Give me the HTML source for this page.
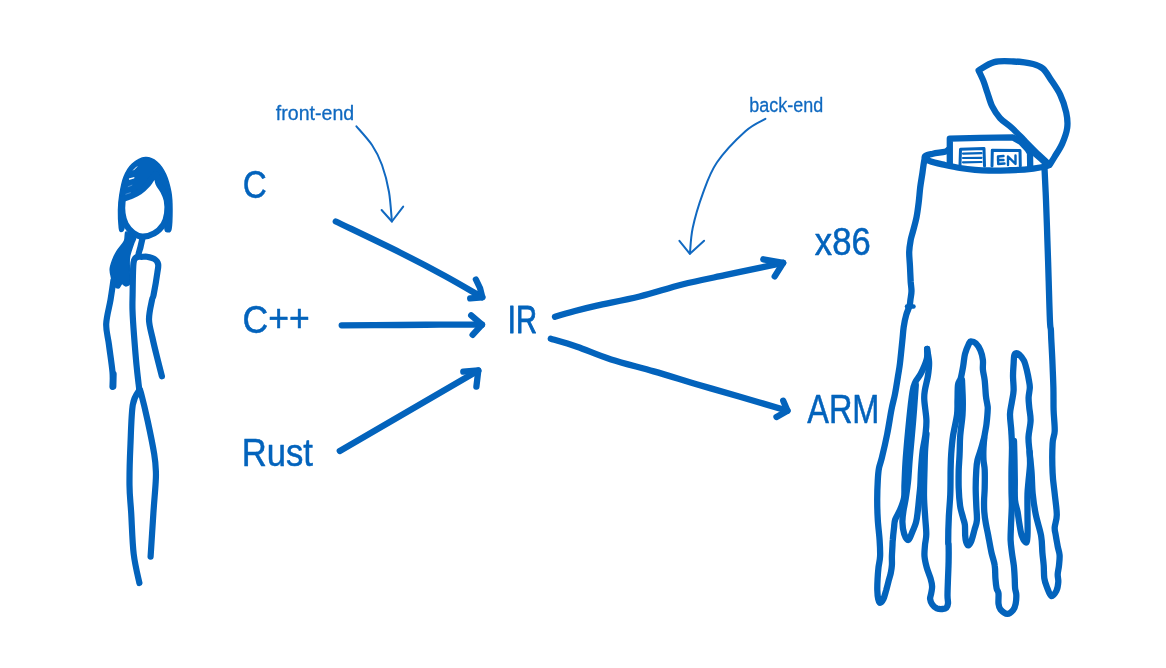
<!DOCTYPE html>
<html lang="en">
<head>
<meta charset="utf-8">
<title>Compiler front-end and back-end</title>
<style>
html,body{margin:0;padding:0;background:#fff;}
body{width:1166px;height:668px;overflow:hidden;font-family:"Liberation Sans","DejaVu Sans",sans-serif;}
svg{display:block;position:absolute;left:0;top:0;filter:blur(0.45px);}
.s{fill:none;stroke:#0363bc;stroke-linecap:round;stroke-linejoin:round;}
.f{fill:#0363bc;stroke:#0363bc;stroke-linecap:round;stroke-linejoin:round;}
text{fill:#0363bc;font-family:"Liberation Sans","DejaVu Sans",sans-serif;}
</style>
</head>
<body>
<svg width="1166" height="668" viewBox="0 0 1166 668">
<path class="f" stroke-width="1.5" d="M119.3 228.0C118.9 224.4 118.4 215.5 118.5 210.0C118.6 204.5 118.9 200.5 119.8 195.0C120.7 189.5 121.9 182.2 124.0 177.0C126.1 171.8 128.7 167.2 132.3 164.0C135.9 160.8 141.3 157.9 145.4 157.6C149.5 157.3 153.4 159.2 156.8 162.0C160.2 164.8 163.3 169.3 165.6 174.3C167.9 179.3 169.7 186.1 170.8 192.0C171.9 197.9 172.0 203.8 172.0 210.0C172.0 216.2 171.7 225.4 171.0 229.0C170.3 232.6 169.0 231.8 168.0 231.8C167.0 231.8 165.3 232.3 165.0 229.0C164.7 225.7 166.2 216.8 166.0 212.0C165.8 207.2 165.0 203.5 164.0 200.0C163.0 196.5 161.4 193.8 160.0 191.0C158.6 188.2 156.4 185.5 155.5 183.0C154.6 180.5 155.5 175.5 154.5 176.0C153.5 176.5 151.8 182.9 149.5 186.0C147.2 189.1 143.5 192.3 140.5 194.5C137.5 196.7 134.1 197.8 131.5 199.0C128.9 200.2 126.2 199.2 125.0 201.5C123.8 203.8 124.7 208.6 124.5 213.0C124.3 217.4 124.6 224.9 124.0 228.0C123.4 231.1 121.8 231.5 121.0 231.5C120.2 231.5 119.7 231.6 119.3 228.0Z"/>
<path class="f" stroke-width="6.2" d="M122.5 202.0C122.2 204.5 122.0 209.8 122.5 213.5C123.0 217.2 123.9 220.9 125.7 224.2C127.5 227.4 130.4 230.9 133.2 233.0C136.0 235.1 138.9 236.5 142.4 236.6C145.9 236.7 150.7 235.4 154.2 233.4C157.7 231.4 161.2 227.9 163.4 224.6C165.6 221.3 166.5 217.6 167.1 213.5C167.7 209.4 167.5 204.1 166.8 200.3C166.1 196.5 164.4 193.4 163.0 190.6C161.6 187.8 159.8 186.2 158.5 183.4C157.2 180.6 157.2 173.9 155.5 174.0C153.8 174.1 150.7 181.0 148.0 184.0C145.3 187.0 142.4 189.8 139.5 191.8C136.6 193.8 133.3 195.1 130.8 196.2C128.3 197.3 125.9 197.5 124.5 198.5C123.1 199.5 122.8 199.5 122.5 202.0Z" style="fill:#fff"/>
<path class="s" stroke-width="1.0" d="M133.6 170.0L136.8 166.8" style="stroke:#fff"/>
<path class="s" stroke-width="1.4" d="M129.6 179.0L133.8 177.8" style="stroke:#fff"/>
<path class="s" stroke-width="0.8" d="M128.2 186.7L131.9 185.2" style="stroke:#5a9ad8"/>
<path class="s" stroke-width="0.8" d="M125.9 194.2L130.4 192.7" style="stroke:#5a9ad8"/>
<path class="f" stroke-width="1.5" d="M126.0 232.0C124.6 232.8 125.9 237.8 124.4 241.0C122.9 244.2 118.9 248.2 116.9 251.4C114.9 254.6 113.6 257.4 112.5 260.4C111.4 263.4 110.3 266.4 110.2 269.4C110.1 272.4 111.0 275.6 111.7 278.4C112.5 281.1 113.6 284.3 114.7 285.9C115.8 287.5 117.4 288.2 118.4 288.1C119.4 288.0 120.1 285.9 120.7 285.1C121.3 284.4 121.3 283.5 122.2 283.6C123.1 283.7 124.7 285.9 125.9 285.9C127.2 285.9 129.0 285.4 129.7 283.6C130.4 281.9 130.2 278.5 130.1 275.4C130.0 272.3 129.3 268.1 129.2 264.9C129.1 261.6 129.0 259.4 129.7 255.9C130.4 252.4 132.4 246.9 133.4 244.0C134.4 241.1 135.6 239.8 135.5 238.5C135.4 237.2 134.6 237.1 133.0 236.0C131.4 234.9 127.4 231.2 126.0 232.0Z"/>
<path class="s" stroke-width="6.2" d="M142.4 238.5C142.1 239.9 141.1 244.1 140.5 247.0C139.9 249.9 137.6 254.6 138.7 256.2C139.8 257.8 144.3 256.2 146.9 256.7C149.5 257.2 152.5 257.8 154.4 259.0C156.3 260.2 157.6 261.8 158.1 264.0C158.6 266.2 158.2 267.2 157.4 272.4C156.7 277.5 154.5 290.3 153.6 294.9C152.7 299.5 152.8 295.9 152.0 300.0C151.2 304.1 148.9 313.2 149.0 319.5C149.1 325.8 151.2 331.8 152.5 338.0C153.8 344.2 155.4 350.6 157.0 357.0C158.6 363.4 161.1 373.1 161.9 376.3"/>
<path class="s" stroke-width="6.2" d="M138.7 256.2C138.1 256.6 135.9 257.4 135.0 258.5C134.1 259.6 133.8 260.7 133.5 263.0C133.2 265.3 133.2 267.1 133.0 272.4C132.8 277.7 132.7 288.6 132.6 294.9C132.5 301.2 132.3 303.3 132.5 310.0C132.7 316.7 133.3 325.8 134.0 335.0C134.7 344.2 135.7 356.8 136.5 365.0C137.3 373.2 138.1 379.7 138.6 384.0C139.1 388.3 139.3 389.8 139.4 391.0"/>
<path class="s" stroke-width="6.2" d="M113.5 280.0C113.0 283.3 111.7 292.7 110.5 300.0C109.3 307.3 106.5 316.5 106.2 324.0C106.0 331.5 108.0 337.0 109.0 345.0C110.0 353.0 111.9 365.0 112.5 372.0C113.1 379.0 112.5 384.3 112.5 386.8"/>
<path class="s" stroke-width="6.2" d="M113.6 374.0L113.3 386.5"/>
<path class="s" stroke-width="6.2" d="M139.4 390.0C138.3 392.4 134.3 395.4 132.8 404.7C131.3 414.0 131.0 432.5 130.4 445.9C129.8 459.3 129.4 473.8 129.5 485.0C129.6 496.2 130.5 501.5 131.2 513.0C131.9 524.5 132.3 542.3 133.7 554.0C135.1 565.7 138.4 578.2 139.4 583.0"/>
<path class="s" stroke-width="6.2" d="M139.4 389.0C139.7 389.7 139.6 387.7 141.0 393.0C142.4 398.3 145.5 410.8 147.7 421.0C149.9 431.2 152.8 445.5 154.2 454.0C155.6 462.5 155.7 466.8 155.9 472.0C156.1 477.2 155.9 478.2 155.5 485.0C155.1 491.8 154.2 501.1 153.4 513.0C152.6 524.9 151.1 549.3 150.6 556.6"/>
<path class="s" stroke-width="6.3" d="M335.8 221.5C346.5 226.7 381.8 243.4 400.0 252.5C418.2 261.6 431.3 268.5 445.0 276.0C458.7 283.5 476.1 293.8 482.3 297.3"/>
<path class="s" stroke-width="6.3" d="M475.9 279.5L480.0 288.0L482.3 297.3L470.2 298.4"/>
<path class="s" stroke-width="6.3" d="M341.7 325.3C351.4 325.2 383.6 325.1 400.0 325.0C416.4 324.9 426.3 324.7 440.0 324.6C453.7 324.6 475.0 324.7 482.0 324.7"/>
<path class="s" stroke-width="6.3" d="M471.2 315.3L482.0 324.7L472.6 334.8"/>
<path class="s" stroke-width="6.3" d="M339.8 451.0L478.3 370.5"/>
<path class="s" stroke-width="6.3" d="M463.3 371.7L478.3 370.5L476.4 386.6"/>
<path class="s" stroke-width="6.3" d="M555.0 316.8C558.3 315.8 568.0 312.9 575.0 311.0C582.0 309.1 586.1 308.0 596.9 305.6C607.7 303.2 625.4 300.0 639.6 296.5C653.8 293.0 668.0 288.1 682.2 284.5C696.4 280.9 710.7 278.2 724.9 275.2C739.1 272.1 757.9 268.3 767.6 266.2C777.3 264.1 780.6 263.4 783.2 262.8"/>
<path class="s" stroke-width="6.3" d="M763.3 259.3L783.2 262.8L774.7 276.4"/>
<path class="s" stroke-width="6.3" d="M550.8 338.7C555.2 340.0 567.0 343.2 577.0 346.7C587.0 350.2 598.3 355.4 611.1 359.5C623.9 363.6 639.6 367.3 653.8 371.4C668.0 375.5 682.3 380.0 696.5 384.2C710.7 388.4 723.9 392.1 739.1 396.5C754.3 400.9 779.4 408.3 787.5 410.7"/>
<path class="s" stroke-width="6.3" d="M783.2 400.7L787.5 410.7L776.5 417.0"/>
<path class="s" stroke-width="2.0" d="M356.4 126.3C359.0 129.4 367.7 138.6 372.0 145.0C376.3 151.4 379.2 157.2 382.0 165.0C384.8 172.8 387.4 182.6 389.0 192.0C390.6 201.4 391.4 216.6 391.9 221.5" style="stroke:#1169c1"/>
<path class="s" stroke-width="2.0" d="M381.6 210.0L391.9 221.5L403.2 206.6" style="stroke:#1169c1"/>
<path class="s" stroke-width="2.0" d="M765.4 118.8C762.1 120.9 753.5 123.9 745.4 131.2C737.3 138.5 724.0 152.1 716.9 162.5C709.8 172.9 706.7 182.9 702.7 193.8C698.7 204.7 694.8 218.0 692.7 228.0C690.6 238.0 690.4 249.3 689.9 253.6" style="stroke:#1169c1"/>
<path class="s" stroke-width="2.0" d="M679.4 240.8L689.9 253.8L704.1 240.8" style="stroke:#1169c1"/>
<path class="s" stroke-width="6.3" d="M978.6 70.4C981.2 69.0 988.4 63.6 994.2 62.1C1000.0 60.6 1007.1 61.2 1013.6 61.5C1020.1 61.8 1028.2 62.8 1033.1 64.0C1038.0 65.2 1039.9 66.0 1042.8 68.5C1045.7 71.0 1047.7 74.8 1050.6 79.2C1053.5 83.6 1057.7 89.3 1060.3 94.8C1062.9 100.3 1065.0 106.8 1066.2 112.3C1067.4 117.8 1067.9 122.6 1067.2 127.8C1066.5 133.0 1064.4 138.5 1062.3 143.4C1060.2 148.3 1056.6 153.4 1054.5 157.0C1052.4 160.6 1050.4 163.5 1049.6 164.8C1047.8 163.2 1043.3 159.3 1038.9 155.1C1034.5 150.9 1027.9 144.1 1023.4 139.5C1018.9 134.9 1015.6 131.4 1011.7 127.8C1007.8 124.2 1003.2 121.7 1000.0 118.1C996.8 114.5 994.3 110.6 992.2 106.4C990.1 102.2 988.9 97.0 987.4 92.8C985.9 88.6 985.0 84.8 983.5 81.1C982.0 77.4 979.4 72.2 978.6 70.4Z"/>
<path class="s" stroke-width="6.3" d="M949.8 164.8L949.8 138.7L980.0 137.8L1012.9 137.4L1021.0 142.0L1027.5 149.0L1030.0 153.0L1030.2 166.5"/>
<path class="s" stroke-width="3" d="M960.0 165.0L960.5 149.2L984.0 148.5L984.5 166.0"/>
<path class="s" stroke-width="2.2" d="M963.0 153.6L981.5 153.2"/>
<path class="s" stroke-width="2.2" d="M963.0 158.0L981.5 157.8"/>
<path class="s" stroke-width="2.2" d="M963.0 162.3L981.5 162.0"/>
<path class="s" stroke-width="3" d="M992.0 166.0L992.3 150.2L1020.0 150.5L1020.3 166.0"/>
<path class="s" stroke-width="2.4" d="M1003.5 156.0L998.0 156.5L998.2 164.0L1004.5 163.5"/>
<path class="s" stroke-width="2.4" d="M998.0 160.0L1003.5 160.0"/>
<path class="s" stroke-width="2.4" d="M1008.0 165.0L1008.0 156.5L1015.5 164.0L1015.5 155.5"/>
<path class="s" stroke-width="6.3" d="M948.4 149.5C947.8 149.9 947.5 151.1 944.9 151.8C942.3 152.5 936.2 152.9 932.9 153.7C929.6 154.5 925.4 155.2 924.9 156.4C924.4 157.7 926.6 159.8 929.9 161.2C933.2 162.6 939.9 163.9 944.9 165.0C949.9 166.1 954.9 167.2 959.9 168.0C964.9 168.8 970.1 169.4 975.0 169.8C979.9 170.2 983.5 170.4 989.0 170.5C994.5 170.6 1001.7 170.5 1008.0 170.3C1014.3 170.1 1021.3 169.9 1026.6 169.4C1031.9 168.9 1036.3 168.2 1040.0 167.5C1043.7 166.8 1047.2 165.8 1048.6 165.5"/>
<path class="s" stroke-width="6.3" d="M1032.1 151.2C1033.4 152.3 1037.6 155.9 1040.0 158.0C1042.4 160.1 1045.6 162.8 1046.7 163.8"/>
<path class="s" stroke-width="6.3" d="M925.2 156.5C925.0 157.4 924.5 159.3 924.0 162.0C923.5 164.7 923.1 168.2 922.5 172.5C921.9 176.8 920.8 182.5 920.2 187.5C919.6 192.5 919.3 197.4 918.7 202.4C918.1 207.4 917.5 212.4 916.5 217.4C915.5 222.4 913.7 228.6 912.7 232.4C911.7 236.2 911.3 236.7 910.7 240.0C910.1 243.3 909.3 247.5 909.2 252.0C909.1 256.5 909.8 262.0 910.0 267.0C910.2 272.0 910.5 278.0 910.7 282.0C911.0 286.0 911.5 288.0 911.5 291.0C911.5 294.0 910.7 297.5 910.4 300.0C910.1 302.5 910.2 303.5 909.5 306.0C908.8 308.5 907.2 311.5 906.2 315.0C905.2 318.5 904.3 322.8 903.7 327.0C903.1 331.2 903.0 334.0 902.4 340.0C901.8 346.0 900.7 357.0 900.0 363.0C899.3 369.0 898.8 370.8 898.0 376.0C897.2 381.2 896.1 388.3 895.0 394.0C893.9 399.7 892.7 403.3 891.4 410.0C890.1 416.7 888.8 426.0 887.2 434.0C885.6 442.0 883.2 452.3 881.8 458.0C880.4 463.7 879.7 464.3 879.0 468.0C878.3 471.7 878.1 474.7 877.8 480.0C877.5 485.3 877.2 493.3 877.2 500.0C877.2 506.7 877.4 513.3 877.8 520.0C878.2 526.7 879.2 534.0 879.6 540.0C880.0 546.0 880.3 551.6 880.1 556.2C879.9 560.8 878.9 563.6 878.5 567.4C878.1 571.1 877.8 575.0 877.6 578.7C877.4 582.5 877.2 586.5 877.3 589.9C877.4 593.3 877.7 596.8 878.2 598.9C878.7 601.0 879.2 602.8 880.1 602.8C881.0 602.8 882.5 601.0 883.5 598.9C884.5 596.8 885.4 592.9 886.3 589.9C887.1 586.9 887.9 583.7 888.6 580.9C889.4 578.1 890.2 575.6 890.8 573.0C891.3 570.4 891.7 568.0 891.9 565.2C892.1 562.4 891.8 559.6 891.9 556.2C892.0 552.8 892.4 547.7 892.5 545.0C892.6 542.3 892.5 542.8 892.8 540.0C893.0 537.2 893.6 531.4 894.0 528.0C894.4 524.6 894.2 522.6 895.2 519.6C896.2 516.6 898.5 513.6 900.0 510.0C901.5 506.4 903.2 502.3 904.0 498.0C904.8 493.7 904.2 490.7 904.5 484.0C904.8 477.3 905.0 468.7 905.8 458.0C906.6 447.3 908.1 431.0 909.2 420.0C910.3 409.0 911.5 398.3 912.5 392.0C913.5 385.7 914.0 385.1 915.4 382.0C916.8 378.9 918.9 377.4 920.8 373.6C922.7 369.8 925.7 363.3 926.7 359.2C927.8 355.1 927.0 350.7 927.1 349.0"/>
<path class="s" stroke-width="4.5" d="M907.0 306.5L913.5 306.5"/>
<path class="s" stroke-width="6.3" d="M915.8 385.0C915.4 390.8 914.2 407.8 913.2 420.0C912.2 432.2 910.7 447.7 909.8 458.0C908.9 468.3 908.7 475.3 908.0 482.0C907.3 488.7 906.5 493.3 905.8 498.0C905.1 502.7 904.2 506.0 903.6 510.0C903.0 514.0 902.3 518.0 902.4 522.0C902.5 526.0 903.2 531.0 904.2 534.0C905.2 537.0 907.1 540.2 908.4 540.0C909.7 539.8 910.7 535.7 912.0 532.7C913.3 529.7 915.1 525.8 916.1 522.0C917.1 518.2 917.4 514.0 917.9 510.0C918.4 506.0 918.7 502.0 919.1 498.0C919.5 494.0 920.0 490.7 920.3 486.0C920.6 481.3 920.6 475.7 921.0 470.0C921.4 464.3 921.8 458.0 922.5 452.0C923.2 446.0 924.9 439.3 925.5 434.0C926.1 428.7 926.6 425.7 926.4 420.0C926.2 414.3 924.5 404.9 924.3 400.0C924.0 395.1 924.3 394.3 924.9 390.3C925.5 386.3 927.2 380.6 927.9 376.0C928.6 371.4 929.2 367.3 929.1 362.8C929.0 358.3 927.4 351.3 927.1 349.0"/>
<path class="s" stroke-width="6.3" d="M926.5 434.0C926.2 437.0 925.3 446.0 925.0 452.0C924.7 458.0 924.7 462.7 924.5 470.0C924.3 477.3 923.9 488.3 924.0 496.0C924.1 503.7 924.7 509.7 925.1 516.0C925.5 522.3 926.3 529.2 926.3 534.0C926.3 538.8 925.3 541.3 925.0 545.0C924.7 548.7 924.2 552.5 924.5 556.2C924.8 559.9 925.7 563.6 926.7 567.4C927.7 571.1 929.7 575.5 930.6 578.7C931.5 581.9 932.0 584.1 932.1 586.5C932.2 588.9 931.5 591.2 931.2 593.3C930.9 595.4 929.9 597.0 930.1 598.9C930.3 600.8 931.2 602.9 932.3 604.5C933.4 606.1 935.1 607.6 936.8 608.4C938.5 609.1 940.8 609.1 942.4 609.0C944.0 608.9 945.5 608.7 946.4 607.8C947.3 606.9 947.8 605.4 948.0 603.4C948.2 601.4 947.5 599.6 947.5 595.5C947.5 591.4 947.8 584.3 948.0 578.7C948.2 573.1 948.5 567.4 948.6 561.8C948.7 556.2 948.7 548.3 948.6 545.0C948.5 541.7 948.2 546.3 948.2 541.8C948.2 537.3 948.4 525.9 948.8 517.9C949.1 509.9 950.0 502.0 950.3 494.0C950.6 486.0 950.5 476.7 950.6 470.0C950.8 463.3 950.8 459.7 951.2 454.0C951.6 448.3 952.0 442.5 953.0 436.0C954.0 429.5 956.2 421.0 957.0 415.0C957.8 409.0 957.3 405.0 957.5 400.0C957.7 395.0 957.5 388.7 958.0 385.0C958.5 381.3 959.9 381.2 960.8 378.0C961.7 374.8 962.5 370.0 963.2 366.0C963.9 362.0 964.0 357.8 965.0 354.0C966.0 350.2 968.2 345.3 969.2 343.2C970.2 341.1 969.9 341.4 971.0 341.4C972.1 341.4 974.2 341.7 975.8 343.2C977.4 344.7 979.3 347.6 980.5 350.4C981.7 353.2 982.5 356.8 982.9 360.0C983.3 363.2 982.6 366.2 982.9 369.6C983.2 373.0 984.2 375.9 984.7 380.3C985.2 384.7 985.5 391.8 985.9 395.9C986.3 400.0 987.1 402.7 987.4 405.0C987.7 407.3 987.9 406.4 987.7 409.6C987.6 412.8 987.0 419.6 986.5 424.0C986.0 428.4 985.0 432.0 984.5 436.0C984.0 440.0 983.7 444.0 983.5 448.0C983.3 452.0 983.3 456.3 983.5 460.0C983.7 463.7 984.5 465.3 984.7 470.0C984.9 474.7 984.8 483.0 984.7 488.0C984.6 493.0 984.2 496.0 984.1 500.0C984.0 504.0 984.0 507.9 984.3 511.9C984.6 515.9 985.2 519.9 985.9 523.9C986.6 527.9 987.4 531.0 988.3 535.8C989.2 540.6 990.4 547.8 991.5 552.7C992.6 557.6 994.1 561.1 994.7 565.4C995.4 569.6 995.1 574.4 995.4 578.2C995.7 582.0 996.1 585.8 996.6 588.3C997.1 590.8 998.2 590.8 998.5 593.4C998.8 596.0 998.2 601.0 998.5 603.6C998.8 606.2 998.9 607.6 1000.4 609.3C1001.9 611.0 1005.3 613.7 1007.4 613.8C1009.5 613.9 1011.8 611.7 1013.2 610.0C1014.6 608.3 1015.2 606.1 1015.7 603.6C1016.2 601.1 1016.4 597.2 1016.3 594.7C1016.2 592.2 1015.4 591.0 1015.1 588.3C1014.8 585.5 1014.9 582.0 1014.7 578.2C1014.5 574.4 1014.3 569.6 1013.8 565.4C1013.3 561.1 1012.4 556.9 1011.9 552.7C1011.4 548.5 1010.8 544.6 1010.6 540.0C1010.5 535.4 1010.8 530.7 1011.0 525.0C1011.2 519.3 1011.7 511.8 1011.8 506.0C1011.9 500.2 1011.5 496.0 1011.5 490.0C1011.5 484.0 1011.4 477.1 1011.5 470.0C1011.6 462.9 1012.0 454.2 1012.0 447.7C1012.0 441.2 1011.6 436.6 1011.3 431.0C1011.0 425.4 1009.9 419.1 1010.0 414.3C1010.1 409.5 1011.2 406.3 1011.8 402.3C1012.4 398.3 1013.4 394.7 1013.6 390.3C1013.8 385.9 1013.0 380.4 1013.0 376.0C1013.0 371.6 1013.4 367.4 1013.6 364.0C1013.8 360.6 1013.8 357.4 1014.2 355.6C1014.6 353.8 1015.2 353.4 1016.0 353.2C1016.8 353.0 1017.7 353.2 1019.0 354.4C1020.3 355.6 1022.5 357.8 1023.8 360.4C1025.1 363.0 1025.9 366.4 1026.8 370.0C1027.7 373.6 1028.7 379.0 1029.2 382.0C1029.7 385.0 1029.9 385.4 1029.8 388.0C1029.7 390.6 1028.7 394.3 1028.6 397.5C1028.5 400.7 1028.9 403.2 1029.2 407.0C1029.5 410.8 1030.7 415.5 1030.6 420.5C1030.5 425.5 1028.7 432.0 1028.5 437.2C1028.3 442.4 1029.1 446.0 1029.6 451.9C1030.1 457.8 1031.1 465.8 1031.6 472.8C1032.1 479.8 1032.0 486.8 1032.7 493.8C1033.4 500.8 1034.4 507.7 1035.8 514.7C1037.2 521.7 1040.0 529.4 1041.1 535.7C1042.2 542.0 1042.0 547.8 1042.4 552.7C1042.8 557.7 1043.4 561.1 1043.7 565.4C1044.0 569.6 1043.8 574.6 1044.3 578.2C1044.8 581.8 1045.7 584.1 1046.9 587.1C1048.1 590.1 1049.7 595.4 1051.3 596.0C1052.9 596.6 1055.2 593.2 1056.4 590.9C1057.6 588.6 1058.1 584.8 1058.3 582.0C1058.5 579.2 1057.6 577.2 1057.7 574.4C1057.8 571.6 1058.7 568.6 1059.0 565.4C1059.3 562.2 1059.8 558.5 1059.6 555.3C1059.4 552.1 1058.3 549.8 1057.7 546.4C1057.1 543.0 1056.2 538.2 1055.7 535.0C1055.2 531.8 1054.5 530.7 1054.7 527.3C1054.9 523.9 1056.8 520.3 1056.8 514.7C1056.8 509.1 1055.4 500.8 1054.7 493.8C1054.0 486.8 1052.9 481.2 1052.6 472.8C1052.2 464.4 1052.2 450.5 1052.6 443.5C1052.9 436.5 1054.5 436.6 1054.7 431.0C1054.9 425.4 1053.8 417.2 1053.6 410.0C1053.4 402.8 1053.6 395.7 1053.4 388.0C1053.2 380.3 1052.8 372.0 1052.5 364.0C1052.2 356.0 1051.6 345.7 1051.3 340.0C1051.0 334.3 1051.1 333.0 1050.9 330.0C1050.7 327.0 1050.4 329.9 1050.0 321.8C1049.6 313.7 1049.1 294.8 1048.7 281.3C1048.3 267.8 1047.9 254.4 1047.4 240.9C1047.0 227.4 1046.5 212.6 1046.0 200.4C1045.5 188.2 1044.8 173.4 1044.5 168.0"/>
<path class="s" stroke-width="6.3" d="M962.0 380.0C962.1 383.3 962.7 394.2 962.8 400.0C962.9 405.8 962.9 409.0 962.5 415.0C962.1 421.0 960.7 429.5 960.2 436.0C959.7 442.5 959.9 448.3 959.6 454.0C959.4 459.7 958.9 464.3 958.7 470.0C958.6 475.7 958.5 482.0 958.7 488.0C958.9 494.0 959.4 500.9 960.1 505.9C960.8 510.9 962.3 514.7 963.1 517.9C963.9 521.1 964.5 522.0 964.9 525.0C965.2 528.0 965.0 533.0 965.2 535.8C965.4 538.6 965.6 540.2 966.1 541.8C966.6 543.4 967.6 545.6 968.5 545.4C969.4 545.2 970.5 543.2 971.5 540.6C972.5 538.0 973.6 533.2 974.5 529.8C975.4 526.4 976.6 524.3 976.9 520.3C977.2 516.3 976.5 511.3 976.3 505.9C976.1 500.5 975.7 494.0 975.7 488.0C975.7 482.0 976.0 474.7 976.3 470.0C976.6 465.3 976.7 463.5 977.5 460.0C978.3 456.5 979.9 452.7 981.0 449.0C982.1 445.3 983.5 439.8 984.0 438.0"/>
<path class="s" stroke-width="6.3" d="M1014.0 441.0C1014.1 444.2 1014.4 453.5 1014.5 460.0C1014.6 466.5 1014.7 473.3 1014.8 480.0C1014.9 486.7 1014.5 494.7 1015.0 500.0C1015.5 505.3 1016.9 507.9 1017.6 511.9C1018.3 515.9 1018.7 519.9 1019.4 523.9C1020.1 527.9 1020.7 532.7 1021.8 535.8C1022.9 538.9 1025.0 542.5 1026.0 542.5C1027.0 542.5 1027.2 540.3 1027.5 535.7C1027.8 531.1 1027.5 521.7 1027.5 514.7C1027.5 507.7 1027.3 499.4 1027.5 493.8C1027.7 488.2 1028.1 486.0 1028.5 481.2C1028.9 476.4 1029.8 469.9 1030.0 465.0C1030.2 460.1 1029.7 454.1 1029.6 451.9"/>
<text transform="matrix(0.8735 0 0 1.0349 242.67 198.18)" font-size="38" stroke-width="0.5" stroke-linejoin="round" style="fill:#0363bc;stroke:#0363bc">C</text>
<text transform="matrix(0.9358 0 0 1.0312 242.56 333.18)" font-size="38" stroke-width="0.5" stroke-linejoin="round" style="fill:#0363bc;stroke:#0363bc">C<tspan dy="-2.2">++</tspan></text>
<text transform="matrix(0.9116 0 0 1.0355 241.69 466.38)" font-size="38" stroke-width="0.5" stroke-linejoin="round" style="fill:#0363bc;stroke:#0363bc">Rust</text>
<text transform="matrix(0.7674 0 0 1.0259 507.8 332.79)" font-size="38" stroke-width="0.9" stroke-linejoin="round" style="fill:#0363bc;stroke:#0363bc">IR</text>
<text transform="matrix(0.9109 0 0 1.0312 814.87 254.58)" font-size="38" stroke-width="0.5" stroke-linejoin="round" style="fill:#0363bc;stroke:#0363bc">x86</text>
<text transform="matrix(0.855 0 0 1.0604 807.21 423.43)" font-size="38" stroke-width="0.5" stroke-linejoin="round" style="fill:#0363bc;stroke:#0363bc">ARM</text>
<text transform="matrix(0.9333 0 0 0.9677 275.77 120.06)" font-size="21" stroke-width="0.3" stroke-linejoin="round" style="fill:#0f69c0;stroke:#0f69c0">front-end</text>
<text transform="matrix(0.8548 0 0 0.9677 749.33 112.06)" font-size="21" stroke-width="0.3" stroke-linejoin="round" style="fill:#0f69c0;stroke:#0f69c0">back-end</text>
</svg>
</body>
</html>
